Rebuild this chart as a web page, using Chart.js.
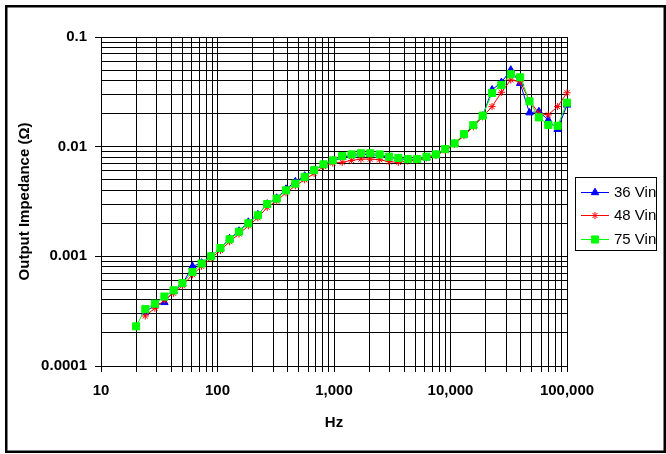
<!DOCTYPE html>
<html><head><meta charset="utf-8">
<script src="https://cdn.jsdelivr.net/npm/chart.js@4/dist/chart.umd.min.js"></script>
<style>html,body{margin:0;padding:0;background:#fff;overflow:hidden}</style>
</head><body>
<canvas id="c" width="666" height="454"></canvas>
<script>
const freqHz = [20, 24, 29, 35, 42, 50, 61, 73, 88, 106, 127, 153, 184, 222, 267, 322, 387, 466, 560, 674, 812, 976, 1175, 1414, 1702, 2048, 2465, 2966, 3569, 4296, 5169, 6221, 7486, 9009, 10838, 13045, 15697, 18889, 22731, 27356, 32917, 39617, 47670, 57369, 69044, 83080, 100000];
const vin36 = [null, 0.00031, 0.00036, 0.00038, 0.00048, 0.00056, 0.00081, 0.00087, 0.00100, 0.00118, 0.00145, 0.00170, 0.00205, 0.0024, 0.0030, 0.0034, 0.0041, 0.0048, 0.0054, 0.0061, 0.0068, 0.0074, 0.0080, 0.0083, 0.0085, 0.0085, 0.0083, 0.0080, 0.0078, 0.0076, 0.0076, 0.0079, 0.0084, 0.0093, 0.0106, 0.0128, 0.0155, 0.0190, 0.0330, 0.0386, 0.050, 0.0378, 0.0204, 0.0209, 0.0175, 0.0144, 0.0240];
const vin48 = [null, 0.000286, 0.000336, 0.00040, 0.00046, 0.00054, 0.00068, 0.00081, 0.00096, 0.00113, 0.00136, 0.00160, 0.00190, 0.00225, 0.0028, 0.0032, 0.0038, 0.0044, 0.0050, 0.0057, 0.0066, 0.0071, 0.0072, 0.0075, 0.0077, 0.0077, 0.0076, 0.0073, 0.0072, 0.0074, 0.0075, 0.0079, 0.0083, 0.0092, 0.0105, 0.0126, 0.0152, 0.0187, 0.0232, 0.0313, 0.0406, 0.0391, 0.0263, 0.0201, 0.0195, 0.0232, 0.0310];
const vin75 = [0.00023, 0.00033, 0.00037, 0.00043, 0.00049, 0.00057, 0.00072, 0.00086, 0.0010, 0.00119, 0.00143, 0.00168, 0.0020, 0.00237, 0.0030, 0.00336, 0.0040, 0.0046, 0.0053, 0.0061, 0.0069, 0.0075, 0.0082, 0.0085, 0.0087, 0.0087, 0.0085, 0.0081, 0.0079, 0.0077, 0.0077, 0.0081, 0.0085, 0.0095, 0.0107, 0.0130, 0.0157, 0.0192, 0.0309, 0.0365, 0.0457, 0.0429, 0.0259, 0.0185, 0.0158, 0.0155, 0.0252];
const seriesNames = ['36 Vin', '48 Vin', '75 Vin'];
const xTickValues = [10, 100, 1000, 10000, 100000];
const xTickLabels = ['10', '100', '1,000', '10,000', '100,000'];
const yTickValues = [0.0001, 0.001, 0.01, 0.1];
const yTickLabels = ['0.0001', '0.001', '0.01', '0.1'];
const minorSteps = [2, 3, 4, 5, 6, 7, 8, 9];
const xTitle = 'Hz';
const yTitle = 'Output Impedance (Ω)';

const FONT = "'Liberation Sans', Arial, sans-serif";
Chart.defaults.font.family = FONT;
Chart.defaults.color = '#000';

function buildLogTicks(decades) {
  const t = [];
  decades.forEach((d, i) => {
    t.push({value: d, major: true});
    if (i < decades.length - 1) minorSteps.forEach(m => t.push({value: +(d * m).toPrecision(6), major: false}));
  });
  return t;
}

const styles = [
  {color: '#0000FF', point: 'triangle', r: 4.3},
  {color: '#FF0000', point: 'star', r: 3.6},
  {color: '#00FF00', point: 'rect', r: 5}
];
const allSeries = [vin36, vin48, vin75];

const datasets = allSeries.map((vals, k) => ({
  label: seriesNames[k],
  data: freqHz.map((f, i) => ({x: f, y: vals[i]})),
  borderColor: styles[k].color,
  backgroundColor: styles[k].color,
  borderWidth: 1,
  pointStyle: styles[k].point,
  pointRadius: styles[k].r,
  pointHoverRadius: styles[k].r,
  pointBorderColor: styles[k].color,
  pointBackgroundColor: styles[k].color,
  pointBorderWidth: 1,
  tension: 0,
  clip: false,
  order: 3 - k
}));

function drawMarker(ctx, style, x, y, r, color) {
  ctx.save();
  ctx.fillStyle = color; ctx.strokeStyle = color; ctx.lineWidth = 1;
  ctx.beginPath();
  if (style === 'triangle') {
    ctx.moveTo(x, y - r);
    ctx.lineTo(x + 0.866 * r, y + 0.5 * r);
    ctx.lineTo(x - 0.866 * r, y + 0.5 * r);
    ctx.closePath(); ctx.fill(); ctx.stroke();
  } else if (style === 'rect') {
    const s = Math.SQRT1_2 * r;
    ctx.rect(x - s, y - s, 2 * s, 2 * s); ctx.fill(); ctx.stroke();
  } else {
    const d = r * Math.SQRT1_2;
    ctx.moveTo(x - r, y); ctx.lineTo(x + r, y);
    ctx.moveTo(x, y - r); ctx.lineTo(x, y + r);
    ctx.moveTo(x - d, y - d); ctx.lineTo(x + d, y + d);
    ctx.moveTo(x - d, y + d); ctx.lineTo(x + d, y - d);
    ctx.stroke();
  }
  ctx.restore();
}

const framePlugin = {
  id: 'frame',
  beforeDraw(chart) {
    const ctx = chart.ctx;
    ctx.save(); ctx.fillStyle = '#fff'; ctx.fillRect(0, 0, chart.width, chart.height); ctx.restore();
  },
  afterDraw(chart) {
    const ctx = chart.ctx;
    ctx.save();
    ctx.strokeStyle = '#000'; ctx.lineWidth = 2.5;
    ctx.strokeRect(6.25, 6.25, 658.5, 445.5);
    // legend box
    ctx.lineWidth = 1;
    ctx.strokeRect(575.5, 177.5, 81, 73);
    const ys = [192, 215, 239];
    ctx.font = '15px ' + FONT;
    ctx.textBaseline = 'middle';
    ctx.textAlign = 'left';
    seriesNames.forEach((name, k) => {
      const y = ys[k];
      ctx.strokeStyle = styles[k].color; ctx.lineWidth = 1;
      ctx.beginPath(); ctx.moveTo(581, y + 0.5); ctx.lineTo(609, y + 0.5); ctx.stroke();
      drawMarker(ctx, styles[k].point, 595, y + 0.5, styles[k].r, styles[k].color);
      ctx.fillStyle = '#000';
      ctx.fillText(name, 614, y + 1);
    });
    ctx.restore();
  }
};

new Chart(document.getElementById('c'), {
  type: 'line',
  data: {datasets},
  plugins: [framePlugin],
  options: {
    responsive: false,
    animation: false,
    events: [],
    layout: {padding: {left: 0, right: 99, top: 37, bottom: 0}},
    plugins: {legend: {display: false}, tooltip: {enabled: false}},
    scales: {
      x: {
        type: 'logarithmic', position: 'bottom', min: 10, max: 100000,
        afterBuildTicks: s => { s.ticks = buildLogTicks(xTickValues); },
        afterFit: s => { s.height = 88; },
        ticks: {
          autoSkip: false, maxRotation: 0, minRotation: 0, padding: 10,
          font: {size: 15, weight: 'bold'}, color: '#000',
          callback: v => { const i = xTickValues.indexOf(v); return i < 0 ? '' : xTickLabels[i]; }
        },
        grid: {color: '#000', lineWidth: 1, tickLength: 6, tickColor: '#000'},
        border: {color: '#000', width: 1},
        title: {display: true, text: xTitle, font: {size: 15, weight: 'bold'}, color: '#000', padding: {top: 0, bottom: 22}}
      },
      y: {
        type: 'logarithmic', position: 'left', min: 0.0001, max: 0.1,
        afterBuildTicks: s => { s.ticks = buildLogTicks(yTickValues); },
        afterFit: s => { s.width = 101; },
        ticks: {
          autoSkip: false, padding: 8,
          font: {size: 15, weight: 'bold'}, color: '#000',
          callback: v => { const i = yTickValues.indexOf(v); return i < 0 ? '' : yTickLabels[i]; }
        },
        grid: {color: '#000', lineWidth: 1, tickLength: 6,
          tickColor: c => (c.tick && c.tick.major) ? '#000' : 'rgba(0,0,0,0)'},
        border: {color: '#000', width: 1},
        title: {display: true, text: yTitle, font: {size: 15, weight: 'bold'}, color: '#000', padding: {top: 16, bottom: 0}}
      }
    }
  }
});
</script>
</body></html>
